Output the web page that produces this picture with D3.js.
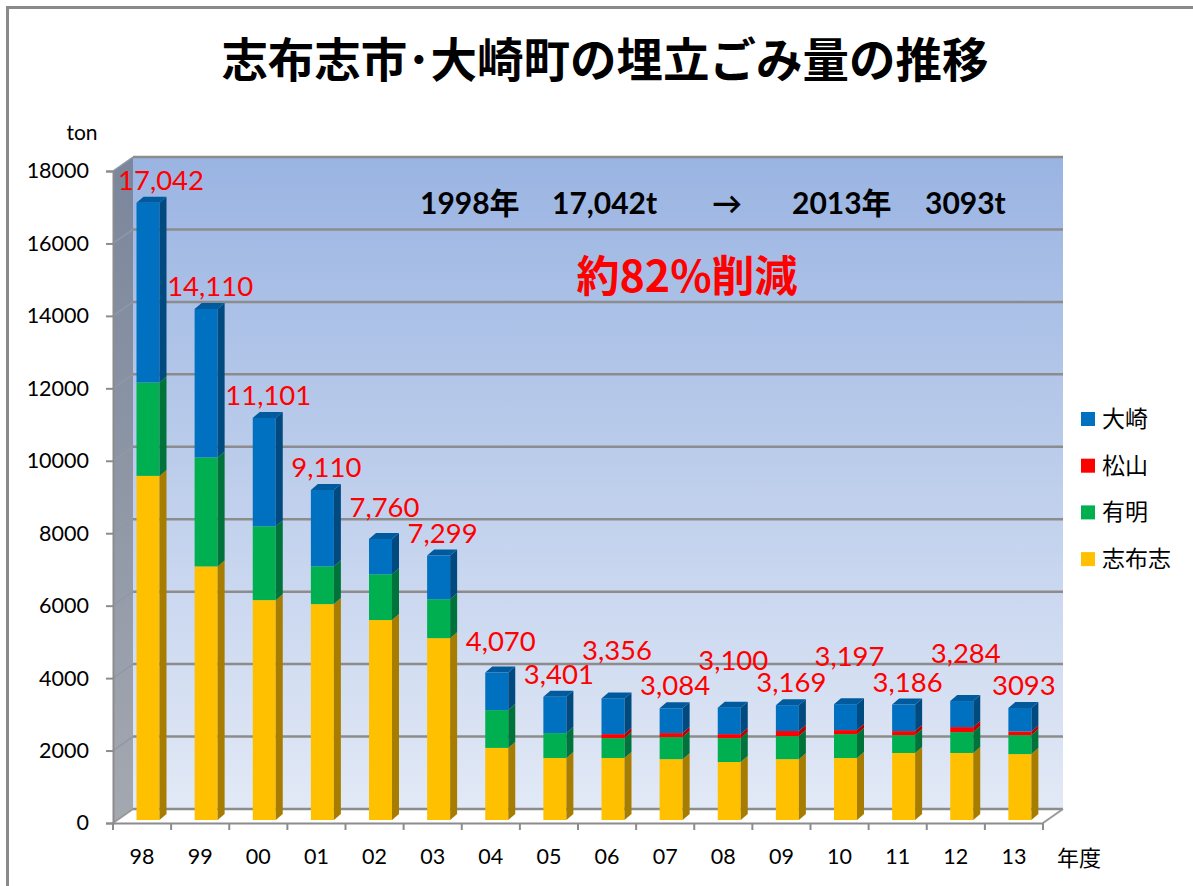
<!DOCTYPE html>
<html>
<head>
<meta charset="utf-8">
<script src="https://cdn.jsdelivr.net/npm/d3@7"></script>
<style>
  body { margin: 0; background: #fff; }
  svg { display: block; }
</style>
</head>
<body>
<div id="chart"></div>
<script>
// 年度 (2-digit)
const years = ['98', '99', '00', '01', '02', '03', '04', '05', '06', '07', '08', '09', '10', '11', '12', '13'];

// series values (ton)
const shibushi = [9500, 7000, 6070, 5960, 5520, 5020, 1990, 1710, 1710, 1680, 1600, 1680, 1710, 1850, 1850, 1820];
const ariake   = [2580, 3010, 2040, 1045, 1264, 1075, 1044, 689, 551, 609, 661, 636, 662, 494, 577, 524];
const matsuyama = [0, 0, 0, 0, 0, 0, 0, 0, 110, 110, 110, 140, 110, 110, 138, 100];
const osaki    = [4962, 4100, 2991, 2105, 976, 1204, 1036, 1002, 985, 685, 729, 713, 715, 732, 719, 649];
const totalLabels = ['17,042', '14,110', '11,101', '9,110', '7,760', '7,299', '4,070', '3,401',
    '3,356', '3,084', '3,100', '3,169', '3,197', '3,186', '3,284', '3093'];
const yTicks = [0, 2000, 4000, 6000, 8000, 10000, 12000, 14000, 16000, 18000];

const seriesNames = ['志布志', '有明', '松山', '大崎'];
const seriesValues = [shibushi, ariake, matsuyama, osaki];
const colors = {
    '志布志': { front: '#FFC000', side: '#A67D00', top: '#C99800' },
    '有明': { front: '#00B050', side: '#00733A', top: '#008C40' },
    '松山': { front: '#FF0000', side: '#B80000', top: '#D00000' },
    '大崎': { front: '#0070C0', side: '#004A80', top: '#005A9E' }
};

const W = 1193, H = 886;
const left = 113, right = 1043, base = 823;
const depthX = 20, depthY = -14;
const barW = 23, sideX = 7, sideY = -6;
const numFont = 'Lato, "Noto Sans", sans-serif';
const jpFont = '"Noto Sans CJK JP", "Noto Sans", sans-serif';

const svg = d3.select('#chart').append('svg')
    .attr('width', W)
    .attr('height', H);

const defs = svg.append('defs');
const wallGrad = defs.append('linearGradient').attr('id', 'wall').attr('x1', 0).attr('y1', 0).attr('x2', 0).attr('y2', 1);
wallGrad.append('stop').attr('offset', '0%').attr('stop-color', '#9AB4E2');
wallGrad.append('stop').attr('offset', '100%').attr('stop-color', '#E2E9F6');
const sideGrad = defs.append('linearGradient').attr('id', 'sidewall').attr('x1', 0).attr('y1', 0).attr('x2', 0).attr('y2', 1);
sideGrad.append('stop').attr('offset', '0%').attr('stop-color', '#7A869C');
sideGrad.append('stop').attr('offset', '100%').attr('stop-color', '#A4A8B0');

// chart frame
svg.append('rect')
    .attr('x', 7.5).attr('y', 7.5)
    .attr('width', 1300).attr('height', 1000)
    .attr('fill', 'none').attr('stroke', '#8a8a8a').attr('stroke-width', 3);

const x = d3.scaleBand().domain(years).range([left, right]).padding(0);
const y = d3.scaleLinear().domain([0, 18000]).range([base, 171]);

// side wall, back wall, floor
svg.append('path')
    .attr('d', `M${left},${base}L${left},${y(18000)}L${left + depthX},${y(18000) + depthY}L${left + depthX},${base + depthY}Z`)
    .attr('fill', 'url(#sidewall)');
svg.append('rect')
    .attr('x', left + depthX).attr('y', y(18000) + depthY)
    .attr('width', right - left).attr('height', y(0) - y(18000))
    .attr('fill', 'url(#wall)');
svg.append('path')
    .attr('d', `M${left},${base}L${right},${base}L${right + depthX},${base + depthY}L${left + depthX},${base + depthY}Z`)
    .attr('fill', '#fff');

// gridlines on the back wall and the side wall
const grid = svg.append('g');
grid.selectAll('line.g')
    .data(yTicks)
    .enter().append('line')
    .attr('class', 'g')
    .attr('x1', left + depthX).attr('x2', right + depthX)
    .attr('y1', d => y(d) + depthY).attr('y2', d => y(d) + depthY)
    .attr('stroke', '#8C8C8C').attr('stroke-width', 2.5);
grid.selectAll('line.s')
    .data(yTicks.filter(d => d > 0))
    .enter().append('line')
    .attr('class', 's')
    .attr('x1', left).attr('x2', left + depthX)
    .attr('y1', d => y(d)).attr('y2', d => y(d) + depthY)
    .attr('stroke', '#9098a8').attr('stroke-width', 1.5);
svg.append('path')
    .attr('d', `M${right},${base}L${right + depthX},${base + depthY}`)
    .attr('stroke', '#999').attr('stroke-width', 2).attr('fill', 'none');
svg.append('path')
    .attr('d', `M${left},${base}L${left + depthX},${base + depthY}`)
    .attr('stroke', '#999').attr('stroke-width', 2).attr('fill', 'none');

// y axis
const yAxis = svg.append('g')
    .attr('transform', `translate(${left},0)`)
    .call(d3.axisLeft(y).tickValues(yTicks).tickSize(7).tickPadding(17).tickFormat(d3.format('d')));
yAxis.select('.domain').attr('stroke', '#8C8C8C').attr('stroke-width', 2);
yAxis.selectAll('.tick line').attr('stroke', '#8C8C8C').attr('stroke-width', 2);
yAxis.selectAll('text').attr('font-family', numFont).attr('font-size', 21.5).attr('fill', '#000');

// x axis
const xAxis = svg.append('g')
    .attr('transform', `translate(0,${base})`)
    .call(d3.axisBottom(x).tickSize(0).tickPadding(26));
xAxis.select('.domain').attr('stroke', '#8C8C8C').attr('stroke-width', 2);
xAxis.selectAll('text').attr('font-family', numFont).attr('font-size', 21.5).attr('fill', '#000');
xAxis.selectAll('line.sep')
    .data(d3.range(years.length + 1))
    .enter().append('line')
    .attr('class', 'sep')
    .attr('x1', i => left + i * x.step()).attr('x2', i => left + i * x.step())
    .attr('y1', 0).attr('y2', 7)
    .attr('stroke', '#8C8C8C').attr('stroke-width', 2);

// stacked 3D bars
const stackData = years.map((yr, i) => {
    const row = { year: yr };
    seriesNames.forEach((s, k) => { row[s] = seriesValues[k][i]; });
    return row;
});
const stacked = d3.stack().keys(seriesNames)(stackData);
const barY = v => y(v) - 3;
const barX = d => x(d) + 23.5;

const bars = svg.append('g');
years.forEach((yr, i) => {
    const g = bars.append('g');
    const segs = stacked.map(layer => ({ key: layer.key, y0: layer[i][0], y1: layer[i][1] }))
        .filter(s => s.y1 > s.y0);
    segs.forEach((s, k) => {
        const x0 = barX(yr), yTop = barY(s.y1), yBot = barY(s.y0);
        const c = colors[s.key];
        g.append('rect')
            .attr('x', x0).attr('y', yTop)
            .attr('width', barW).attr('height', yBot - yTop)
            .attr('fill', c.front);
        g.append('path')
            .attr('d', `M${x0 + barW},${yBot}L${x0 + barW},${yTop}L${x0 + barW + sideX},${yTop + sideY}L${x0 + barW + sideX},${yBot + sideY}Z`)
            .attr('fill', c.side);
        if (k === segs.length - 1) {
            g.append('path')
                .attr('d', `M${x0},${yTop}L${x0 + barW},${yTop}L${x0 + barW + sideX},${yTop + sideY}L${x0 + sideX},${yTop + sideY}Z`)
                .attr('fill', c.top);
        }
    });
});

// total labels (staggered like the original so they do not collide)
const labelLift = i => (i >= 8 ? (i % 2 === 0 ? 25 : 0) : (i === 4 || i === 6 ? 9 : 0));
svg.append('g').selectAll('text')
    .data(years)
    .enter().append('text')
    .attr('x', (d, i) => barX(d) + barW / 2 + (i === 0 ? 13 : 4))
    .attr('y', (d, i) => barY(stacked[3][i][1]) - 13 - labelLift(i))
    .attr('text-anchor', 'middle')
    .attr('font-family', numFont).attr('font-size', 27.5)
    .attr('fill', '#FF0000')
    .text((d, i) => totalLabels[i]);

// title
svg.append('text')
    .attr('x', 605).attr('y', 77)
    .attr('text-anchor', 'middle')
    .attr('font-family', jpFont).attr('font-weight', 'bold').attr('font-size', 46.5)
    .attr('fill', '#000')
    .text('志布志市･大崎町の埋立ごみ量の推移');

// annotation
const note = svg.append('g')
    .attr('font-weight', 'bold').attr('font-size', 30).attr('fill', '#000');
[['1998年', 420], ['17,042t', 552], ['→', 712], ['2013年', 792], ['3093t', 925]].forEach(([t, px]) => {
    note.append('text').attr('x', px).attr('y', 214).text(t)
        .attr('font-family', `Lato, ${jpFont}`);
});
svg.append('text')
    .attr('x', 687).attr('y', 292)
    .attr('text-anchor', 'middle')
    .attr('font-family', jpFont).attr('font-weight', 'bold').attr('font-size', 43)
    .attr('fill', '#FF0000')
    .text('約82%削減');

// unit labels
svg.append('text')
    .attr('x', 82).attr('y', 140)
    .attr('text-anchor', 'middle')
    .attr('font-family', numFont).attr('font-size', 21)
    .text('ton');
svg.append('text')
    .attr('x', 1057).attr('y', 866)
    .attr('font-family', jpFont).attr('font-size', 22)
    .text('年度');

// legend
const legendOrder = ['大崎', '松山', '有明', '志布志'];
const legend = svg.append('g').selectAll('g')
    .data(legendOrder)
    .enter().append('g')
    .attr('transform', (d, i) => `translate(1081,${419 + i * 46.7})`);
legend.append('rect')
    .attr('x', 0).attr('y', -7)
    .attr('width', 14).attr('height', 14)
    .attr('fill', d => colors[d].front);
legend.append('text')
    .attr('x', 21).attr('y', 8)
    .attr('font-family', jpFont).attr('font-size', 23)
    .text(d => d);
</script>
</body>
</html>
